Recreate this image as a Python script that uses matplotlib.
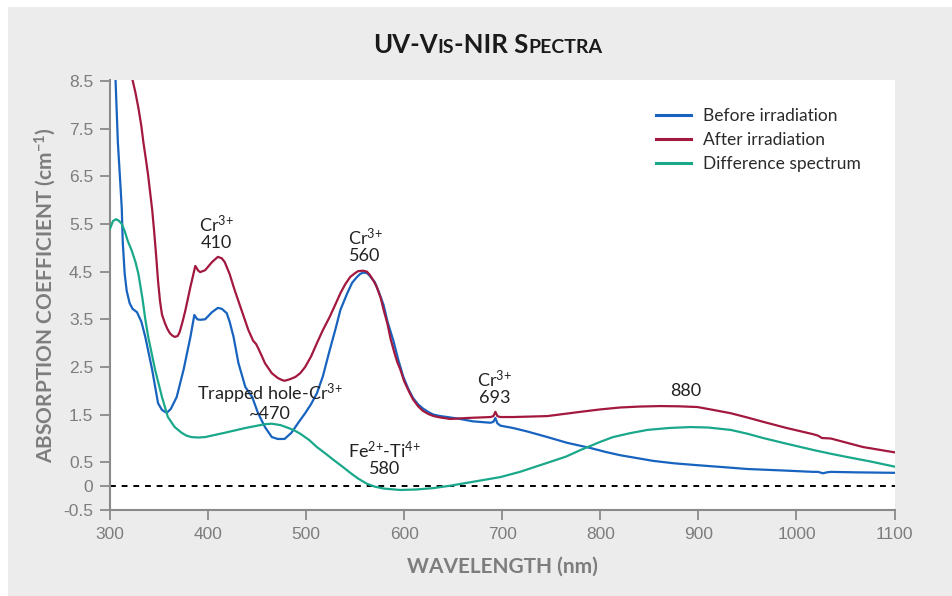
import matplotlib
matplotlib.use("Agg")
import matplotlib.pyplot as plt
from matplotlib.patches import Rectangle
from matplotlib.offsetbox import TextArea, HPacker, AnchoredOffsetbox

plt.rcParams['font.family'] = ['Lato', 'DejaVu Sans']
plt.rcParams['mathtext.fontset'] = 'custom'
plt.rcParams['mathtext.rm'] = 'Lato'
plt.rcParams['mathtext.bf'] = 'Lato:bold'
plt.rcParams['mathtext.default'] = 'regular'

# --- data ---
wl_before = [305.5, 308, 310, 312, 313, 315, 317, 320, 323, 327.5, 332, 336, 343, 349, 353, 356, 358, 362,
             368, 375, 382, 386, 389, 392, 397, 404, 410, 414, 419, 422, 426, 431, 438, 445, 451, 458, 465,
             471, 478, 485, 492, 499, 505, 511, 517, 524, 530, 535, 542, 547, 552, 555, 558, 562, 565, 570,
             574, 579, 583, 589, 594, 599, 604, 609, 614, 619, 625, 630, 637, 644, 657, 670, 688, 691, 693,
             695, 698, 711, 725, 739, 746, 766, 790, 805, 820, 837, 854, 875, 899, 925, 950, 985, 1017,
             1022, 1027, 1031, 1035, 1060, 1100]
ab_before = [8.6, 7.22, 6.53, 5.83, 5.12, 4.45, 4.1, 3.84, 3.72, 3.65, 3.45, 3.13, 2.44, 1.74, 1.6, 1.56, 1.54, 1.62,
             1.87, 2.44, 3.13, 3.59, 3.5, 3.49, 3.5, 3.65, 3.74, 3.72, 3.63, 3.45, 3.13, 2.58, 2.08, 1.87, 1.53, 1.24, 1.03,
             0.99, 0.99, 1.12, 1.33, 1.53, 1.72, 1.95, 2.3, 2.85, 3.3, 3.7, 4.05, 4.27, 4.39, 4.45, 4.48, 4.47, 4.41, 4.28,
             4.08, 3.8, 3.45, 3.05, 2.65, 2.3, 2.05, 1.85, 1.72, 1.63, 1.55, 1.5, 1.47, 1.45, 1.41, 1.36, 1.33, 1.35, 1.43,
             1.32, 1.27, 1.22, 1.15, 1.07, 1.03, 0.91, 0.80, 0.72, 0.65, 0.59, 0.53, 0.48, 0.44, 0.40, 0.36, 0.33, 0.30,
             0.30, 0.27, 0.29, 0.30, 0.29, 0.28]

wl_after = [323, 326, 329, 332, 334, 337, 339, 341, 343, 345, 347, 349, 351, 353, 356, 358.5, 361, 363.5, 366, 369,
            371, 374, 377, 382, 387, 390, 392, 397, 404, 410, 414, 417, 422, 427, 434, 441, 446, 449, 451, 455,
            458, 465, 471, 475, 478, 483, 489, 494, 499, 505, 511, 517, 524, 530, 535, 540, 545, 550, 553, 558,
            562, 565, 569, 572, 576, 579, 583, 586, 590, 593, 596, 600, 605, 609, 614, 619, 625, 630, 637, 647,
            664, 688, 691, 693, 695, 698, 711, 746, 780, 800, 820, 840, 861, 880, 899, 915, 933, 950, 966, 990,
            1017, 1022, 1026, 1035, 1068, 1100]
ab_after = [8.52, 8.25, 7.93, 7.55, 7.22, 6.8, 6.5, 6.15, 5.8, 5.35, 4.85, 4.3, 3.88, 3.6, 3.42, 3.3, 3.21, 3.16, 3.13,
            3.15, 3.23, 3.45, 3.7, 4.18, 4.62, 4.52, 4.49, 4.53, 4.7, 4.81, 4.78, 4.7, 4.45, 4.12, 3.7, 3.28, 3.05, 2.98,
            2.9, 2.72, 2.58, 2.37, 2.27, 2.23, 2.21, 2.24, 2.29, 2.37, 2.5, 2.72, 3.0, 3.27, 3.55, 3.82, 4.05, 4.24, 4.39,
            4.47, 4.51, 4.52, 4.5, 4.43, 4.3, 4.18, 3.95, 3.7, 3.4, 3.1, 2.8, 2.6, 2.45, 2.2, 1.98, 1.82, 1.68, 1.58,
            1.51, 1.47, 1.44, 1.41, 1.43, 1.45, 1.47, 1.56, 1.47, 1.45, 1.45, 1.47, 1.56, 1.61, 1.65, 1.67, 1.68, 1.675,
            1.66, 1.6, 1.53, 1.44, 1.35, 1.22, 1.09, 1.06, 1.01, 1.0, 0.82, 0.71]

wl_diff = [300, 303, 306, 309, 312, 315, 318, 322, 326, 329, 333, 336, 339, 346, 353, 359, 366, 373, 378, 383, 390,
           397, 417, 438, 458, 465, 474, 482, 488, 494, 503, 511, 520, 528, 537, 545, 553, 562, 570, 579, 596,
           612, 630, 647, 664, 698, 718, 746, 765, 780, 800, 813, 830, 848, 870, 892, 910, 933, 950, 966, 990,
           1017, 1035, 1052, 1075, 1100]
ab_diff = [5.4, 5.56, 5.6, 5.57, 5.5, 5.35, 5.15, 4.95, 4.7, 4.45, 3.95, 3.5, 3.13, 2.44, 1.87, 1.45, 1.24, 1.12, 1.06,
           1.03, 1.02, 1.03, 1.12, 1.22, 1.3, 1.31, 1.28, 1.22, 1.17, 1.1, 0.97, 0.82, 0.68, 0.55, 0.41, 0.28, 0.16, 0.05,
           -0.01, -0.05, -0.08, -0.07, -0.04, 0.01, 0.07, 0.19, 0.3, 0.49, 0.62, 0.76, 0.93, 1.03, 1.11, 1.18, 1.22,
           1.24, 1.23, 1.18, 1.1, 1.01, 0.89, 0.76, 0.68, 0.61, 0.52, 0.41]

series_labels = ["Before irradiation", "After irradiation", "Difference spectrum"]
series_colors = ["#1763bf", "#a3183e", "#1aa88a"]

yticks = [-0.5, 0, 0.5, 1.5, 2.5, 3.5, 4.5, 5.5, 6.5, 7.5, 8.5]
ytick_labels = ["-0.5", "0", "0.5", "1.5", "2.5", "3.5", "4.5", "5.5", "6.5", "7.5", "8.5"]
xticks = [300, 400, 500, 600, 700, 800, 900, 1000, 1100]

# band labels: (text, wavelength, absorption)
bands = [("Cr$^{3{+}}$\n410", 408, 5.33),
         ("Cr$^{3{+}}$\n560", 560, 5.04),
         ("Trapped hole-Cr$^{3{+}}$\n~470", 463, 1.77),
         ("Fe$^{2{+}}$-Ti$^{4{+}}$\n580", 580, 0.59),
         ("Cr$^{3{+}}$\n693", 692, 2.08),
         ("880", 887, 1.99)]

fig = plt.figure(figsize=(9.53, 5.96), dpi=100, facecolor="white")
fig.patches.append(Rectangle((8/953, 0), 1, 1 - 7/596, transform=fig.transFigure,
                             facecolor="#ececec", edgecolor="none", zorder=-10))
ax = fig.add_axes([110/953, 86/596, 785/953, 430/596])
ax.set_facecolor("white")

ax.axhline(0, color="black", lw=1.4, ls=(0, (3, 3)), zorder=1)
for wl, ab, lab, c in zip([wl_before, wl_after, wl_diff], [ab_before, ab_after, ab_diff],
                          series_labels, series_colors):
    ax.plot(wl, ab, color=c, lw=1.6, label=lab, zorder=3, solid_joinstyle="round")

for txt, x, y in bands:
    ax.text(x, y, txt, ha="center", va="center", fontsize=13, color="#222222",
            linespacing=1.0, zorder=4)

ax.set_xlim(300, 1100.5)
ax.set_ylim(-0.5, 8.52)
ax.set_xticks(xticks)
ax.set_yticks(yticks)
ax.set_yticklabels(ytick_labels)
for s in ["top", "right"]:
    ax.spines[s].set_visible(False)
for s in ["left", "bottom"]:
    ax.spines[s].set_color("#8a8a8a")
    ax.spines[s].set_linewidth(1.5)
ax.tick_params(direction="out", length=7, width=1.3, color="#8a8a8a", labelcolor="#7d7d7d",
               labelsize=12.5, pad=5)
for t in ax.get_xticklabels() + ax.get_yticklabels():
    t.set_family("Liberation Sans")

leg = ax.legend(loc="upper left", bbox_to_anchor=(0.696, 0.935), frameon=False, fontsize=12.5,
                handlelength=2.0, handletextpad=0.7, labelspacing=0.47, borderaxespad=0, borderpad=0)
for t in leg.get_texts():
    t.set_color("#2a2a2a")
for h in leg.get_lines():
    h.set_linewidth(2.2)

# small-caps title
parts = [("UV-V", 18.5), ("IS", 14), ("-NIR S", 18.5), ("PECTRA", 14)]
boxes = [TextArea(p, textprops=dict(fontsize=s, fontweight="bold", color="#1a1a1a")) for p, s in parts]
title = HPacker(children=boxes, align="baseline", pad=0, sep=0)
ab_box = AnchoredOffsetbox(loc="center", child=title, bbox_to_anchor=(488/953, 1 - 45/596),
                           bbox_transform=fig.transFigure, frameon=False, pad=0, borderpad=0)
fig.add_artist(ab_box)

fig.text(45/953, 1 - 295/596, "ABSORPTION COEFFICIENT (cm$^{-1}$)", rotation=90, ha="center", va="center",
         fontsize=15, fontweight="bold", color="#7d7d7d")
fig.text(502/953, 1 - 567/596, "WAVELENGTH (nm)", ha="center", va="center",
         fontsize=15, fontweight="bold", color="#7d7d7d")

fig.savefig("out.png", dpi=100, facecolor=fig.get_facecolor())
